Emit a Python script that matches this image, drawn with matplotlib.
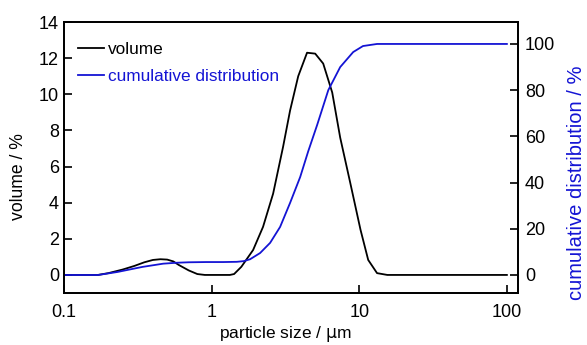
import matplotlib
matplotlib.use("Agg")
import matplotlib.pyplot as plt
import matplotlib.ticker as ticker

plt.rcParams['font.family'] = ['Liberation Sans', 'DejaVu Sans']

# volume distribution (left axis)
vol_size = [0.1, 0.15, 0.17, 0.2, 0.25, 0.3, 0.35, 0.4, 0.45, 0.5, 0.55, 0.6, 0.7, 0.8, 0.9,
            1.0, 1.2, 1.33, 1.42, 1.59, 1.91, 2.23, 2.61, 3.05, 3.4, 3.86, 4.43, 5.03, 5.7,
            6.56, 7.43, 8.69, 10.2, 11.5, 13.2, 15.5, 30, 60, 100]
vol_pct = [0, 0, 0.0, 0.1, 0.3, 0.5, 0.7, 0.83, 0.87, 0.85, 0.75, 0.55, 0.25, 0.05, 0.0,
           0, 0, 0.0, 0.05, 0.45, 1.38, 2.66, 4.5, 7.1, 9.1, 11.0, 12.3, 12.25, 11.7,
           10.1, 7.6, 5.1, 2.5, 0.83, 0.1, 0, 0, 0, 0]

# cumulative distribution (right axis)
cum_size = [0.1, 0.17, 0.23, 0.34, 0.47, 0.58, 0.7, 0.92, 1.2, 1.48, 1.65, 1.82, 2.13, 2.49,
            2.91, 3.4, 3.98, 4.51, 5.19, 6.17, 7.43, 9.1, 10.6, 13.2, 30, 60, 100]
cum_pct = [0, 0, 1.3, 3.5, 4.9, 5.3, 5.5, 5.6, 5.6, 5.7, 6.0, 6.8, 9.5, 13.9,
           20.8, 31.2, 42.4, 53.5, 65, 80, 90, 96.5, 99.1, 100, 100, 100, 100]

blue = '#1414d4'

fig = plt.figure(figsize=(5.87, 3.45), dpi=100)
ax = fig.add_axes([0.109, 0.1507, 0.7735, 0.7855])
ax2 = ax.twinx()

ax.plot(vol_size, vol_pct, color='black', lw=1.3, label='volume')
ax2.plot(cum_size, cum_pct, color=blue, lw=1.3, label='cumulative distribution')

ax.set_xscale('log')
ax.set_xlim(0.1, 119)
ax.set_ylim(-1, 14)
ax2.set_ylim(-7.8, 109.5)

ax.xaxis.set_major_locator(ticker.FixedLocator([0.1, 1, 10, 100]))
ax.xaxis.set_major_formatter(ticker.FixedFormatter(['0.1', '1', '10', '100']))
ax.xaxis.set_minor_locator(ticker.NullLocator())
ax.set_yticks(range(0, 15, 2))
ax2.set_yticks(range(0, 101, 20))

ax.tick_params(direction='in', labelsize=13, length=6, width=1.2)
ax.tick_params(axis='x', pad=8)
ax2.tick_params(direction='in', labelsize=13, length=6, width=1.2, pad=5)
for a in (ax, ax2):
    for s in a.spines.values():
        s.set_linewidth(1.3)

ax.set_xlabel('particle size / $\\mathrm{\\mu}$m', fontsize=12.5)
ax.set_ylabel('volume / %', fontsize=12.7)
ax2.set_ylabel('cumulative distribution / %', fontsize=14.5, color=blue)
ax.xaxis.set_label_coords(0.487, -0.116)
ax.yaxis.set_label_coords(-0.0815, 0.428)
ax2.yaxis.set_label_coords(1.108, 0.406)

h1, l1 = ax.get_legend_handles_labels()
h2, l2 = ax2.get_legend_handles_labels()
leg = ax.legend(h1 + h2, l1 + l2, loc='upper left', bbox_to_anchor=(0.004, 0.97),
                frameon=False, fontsize=12.4, handlelength=1.5, handletextpad=0.25,
                borderaxespad=0.3, labelspacing=0.68)
leg.get_texts()[1].set_color(blue)

fig.savefig('out.png', dpi=100)
